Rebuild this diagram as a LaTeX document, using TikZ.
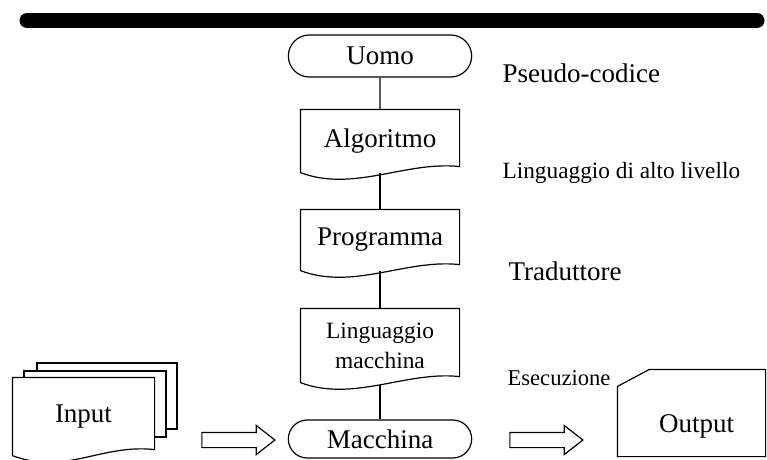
\documentclass[tikz,border=0pt]{standalone}
\usepackage{fontspec}
\setmainfont{Liberation Serif}
\usetikzlibrary{shapes.misc, shapes.arrows}

\newcommand{\docoutline}[1]{%
  \draw[line width=1.2pt] (#1.north east) -- (#1.north west) -- (#1.south west)
    .. controls +(53,20) and +(-53,-6) .. ([yshift=6pt]#1.south east) -- cycle;}

\begin{document}
\begin{tikzpicture}[x=1pt, y=-1pt, line width=1.2pt,
    big/.style={font=\fontsize{27}{30}\selectfont},
    small/.style={font=\fontsize{23.4}{30}\selectfont},
    term/.style={rounded rectangle, draw, big, minimum width=190pt},
    doc/.style={big, minimum width=158pt, inner sep=0pt},
    sheet/.style={draw, fill=white, inner sep=0pt},
    blockarrow/.style={single arrow, draw, inner sep=7pt, minimum height=73pt,
      single arrow head extend=7pt, single arrow tip angle=76},
    note/.style={anchor=base west, inner sep=0pt}]

    \useasboundingbox (0,0) rectangle (767,459);

    % top bar
    \coordinate (barL) at (27,20.5);
    \coordinate (barR) at (757,20.5);
    \draw[line width=15pt, line cap=round] (barL) -- (barR);

    % main column
    \node [term, minimum height=42pt] (uomo) at (380,56) {Uomo};
    \node [doc, minimum height=62pt] (algo) at (380,141) {Algoritmo};
    \node [doc, minimum height=60pt] (prog) at (380,240) {Programma};
    \node [doc, small, align=center, minimum height=73pt] (lm) at (380,345.5) {Linguaggio\\macchina};
    \node [term, minimum height=38pt] (macchina) at (380,439) {Macchina};
    \docoutline{algo}
    \docoutline{prog}
    \docoutline{lm}

    \draw (uomo) -- (algo);
    \path[draw, shorten <=2pt]
      (algo.south) -- (prog.north)
      (prog.south) -- (lm.north)
      (lm.south) -- (macchina.north);

    % input stack
    \node [sheet, minimum width=140pt, minimum height=66pt] (inputC) at (107,396) {};
    \node [sheet, minimum width=142pt, minimum height=66pt] (inputB) at (95,404) {};
    \node [doc, fill=white, minimum width=141pt, minimum height=77pt] (input) at (83.5,416.5) {Input};
    \docoutline{input}

    % block arrows
    \node [blockarrow] (arrowIn) at (233.5,440) {};
    \node [blockarrow] (arrowOut) at (541.5,440) {};

    % output
    \node [big, minimum width=147pt, minimum height=86pt, inner xsep=31pt,
      text width=85pt, align=right, text height=44pt, text depth=6pt] (output) at (691.5,413) {Output};
    \draw (output.north east) -- (output.south east) -- (output.south west)
      -- ([yshift=-17pt]output.north west) -- ([xshift=32pt]output.north west) -- cycle;

    % side notes
    \node [note, big] (pseudo) at (502,82) {Pseudo-codice};
    \node [note, font=\fontsize{23.3}{28}\selectfont] (alto) at (502,178) {Linguaggio di alto livello};
    \node [note, big] (trad) at (508,280) {Traduttore};
    \node [note, font=\fontsize{22.6}{27}\selectfont] (esec) at (507,385) {Esecuzione};
\end{tikzpicture}
\end{document}
